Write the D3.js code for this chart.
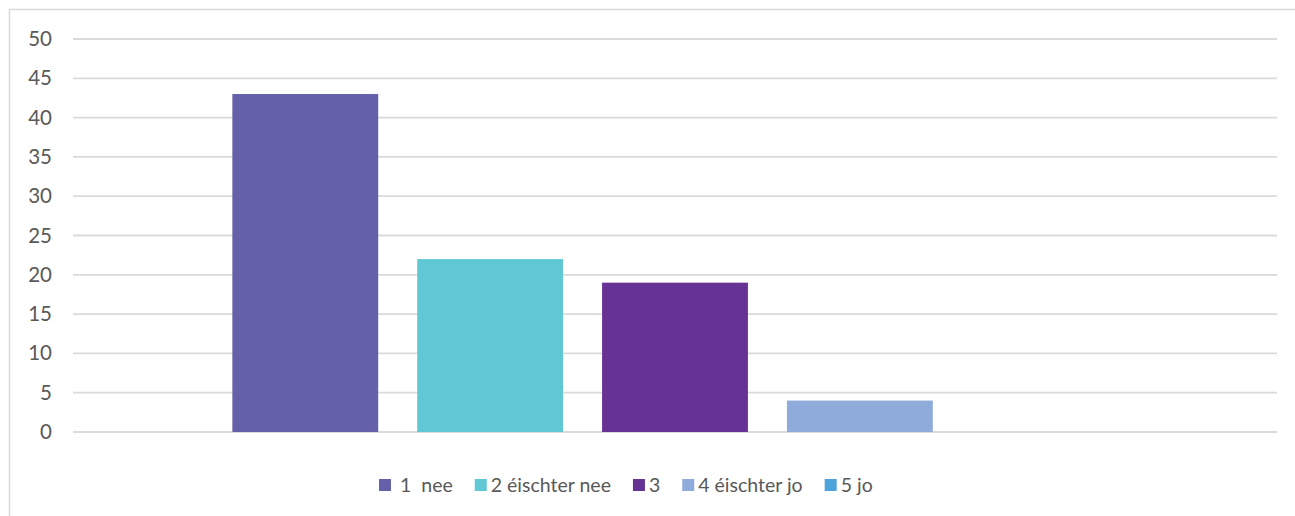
<!DOCTYPE html>
<html>
<head>
<meta charset="utf-8">
<script src="https://cdn.jsdelivr.net/npm/d3@7"></script>
<style>
  body { margin: 0; background: #fff; }
  text { font-family: Lato, "Open Sans", sans-serif; fill: #595959; }
</style>
</head>
<body>
<div id="chart"></div>
<script>
const WIDTH = 1295;
const HEIGHT = 516;

// series (one category, five answers)
const seriesNames = [" 1  nee", "2 éischter nee", "3", "4 éischter jo", "5 jo"];
const seriesValues = [43, 22, 19, 4, 0];
const seriesColors = ["#6460aa", "#5fc8d4", "#663395", "#8eabda", "#4ea3db"];
const yTicks = [0, 5, 10, 15, 20, 25, 30, 35, 40, 45, 50];

const svg = d3.select("#chart").append("svg")
  .attr("xmlns", "http://www.w3.org/2000/svg")
  .attr("width", WIDTH)
  .attr("height", HEIGHT);

// chart frame (only left and top edges visible)
svg.append("rect")
  .attr("x", 9.5).attr("y", 9.5)
  .attr("width", WIDTH + 20).attr("height", HEIGHT + 20)
  .attr("fill", "none")
  .attr("stroke", "#d9d9d9")
  .attr("stroke-width", 1.5);

const plot = { left: 73, right: 1277, top: 39, bottom: 432 };

const y = d3.scaleLinear().domain([0, 50]).range([plot.bottom, plot.top]);

const x = d3.scaleBand()
  .domain(seriesNames)
  .range([plot.left, plot.right])
  .paddingInner(0.211)
  .paddingOuter(0.862);

// gridlines
svg.append("g")
  .selectAll("line")
  .data(yTicks)
  .join("line")
  .attr("x1", plot.left).attr("x2", plot.right)
  .attr("y1", d => y(d)).attr("y2", d => y(d))
  .attr("stroke", "#d9dbdb")
  .attr("stroke-width", 1.8);

// y axis labels
const yAxis = svg.append("g")
  .attr("transform", `translate(${plot.left - 21},0)`)
  .call(d3.axisLeft(y).tickValues(yTicks).tickSize(0).tickPadding(0));
yAxis.select(".domain").remove();
yAxis.selectAll("text")
  .style("font-family", "Lato, 'Open Sans', sans-serif")
  .style("font-size", "20.5px")
  .attr("fill", "#595959");

// bars
svg.append("g")
  .selectAll("rect")
  .data(seriesNames)
  .join("rect")
  .attr("x", d => x(d))
  .attr("width", x.bandwidth())
  .attr("y", (d, i) => y(seriesValues[i]))
  .attr("height", (d, i) => y(0) - y(seriesValues[i]))
  .attr("fill", (d, i) => seriesColors[i]);

// legend
const legend = svg.append("g").attr("transform", "translate(0,485)");
let lx = 379;
seriesNames.forEach((name, i) => {
  const item = legend.append("g").attr("transform", `translate(${lx},0)`);
  item.append("rect")
    .attr("x", 0).attr("y", -6)
    .attr("width", 12).attr("height", 12)
    .attr("fill", seriesColors[i]);
  const t = item.append("text")
    .attr("x", 16)
    .attr("dy", "0.35em")
    .style("font-size", "19.5px")
    .style("white-space", "pre")
    .text(name);
  lx += 16 + t.node().getComputedTextLength() + 22;
});
</script>
</body>
</html>
